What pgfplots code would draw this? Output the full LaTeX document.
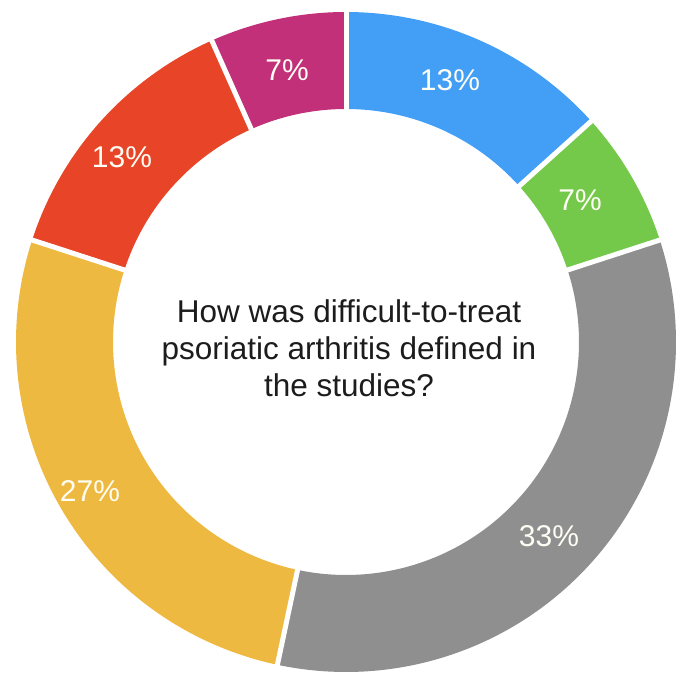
\documentclass[border=0pt]{standalone}
\usepackage{pgfplots}
\usepackage{pgfplotstable}
\pgfplotsset{compat=1.18}
\usepackage{fontspec}
\setmainfont{Liberation Sans}

\definecolor{cBlue}{HTML}{439FF6}
\definecolor{cGreen}{HTML}{74C94A}
\definecolor{cGray}{HTML}{8F8F8F}
\definecolor{cYellow}{HTML}{EEB940}
\definecolor{cRed}{HTML}{E84428}
\definecolor{cMagenta}{HTML}{C2307A}
\definecolor{cText}{HTML}{1C1C1C}

% share of studies (percent), clockwise from 12 o'clock
\pgfplotstableread{
name pct
Blue 13.333
Green 6.667
Gray 33.333
Yellow 26.667
Red 13.333
Magenta 6.667
}\datatable

\newcommand\getpct[2]{\pgfplotstablegetelem{#1}{pct}\of\datatable\pgfmathsetmacro#2{\pgfplotsretval}}
\getpct{0}{\pA}\getpct{1}{\pB}\getpct{2}{\pC}\getpct{3}{\pD}\getpct{4}{\pE}\getpct{5}{\pF}
\pgfmathsetmacro\aA{90}
\pgfmathsetmacro\aB{\aA-3.6*\pA}
\pgfmathsetmacro\aC{\aB-3.6*\pB}
\pgfmathsetmacro\aD{\aC-3.6*\pC}
\pgfmathsetmacro\aE{\aD-3.6*\pD}
\pgfmathsetmacro\aF{\aE-3.6*\pE}
\pgfmathsetmacro\aG{\aF-3.6*\pF}

\pgfplotstableread{
x y label
104 262 13\%
234 142 7\%
203 -194 33\%
-256 -149 27\%
-224 185 13\%
-59 272 7\%
}\labeltable

\begin{document}
\begin{tikzpicture}
\begin{axis}[
  scale only axis, width=677pt, height=677pt,
  xmin=-346, xmax=331, ymin=-335, ymax=342,
  hide axis, clip=false,
]
\def\rmid{281.5}
\def\ring{97pt}
\addplot[draw=cBlue, line width=\ring, domain=\aB:\aA, samples=80, data cs=polar] ({x},{\rmid});
\addplot[draw=cGreen, line width=\ring, domain=\aC:\aB, samples=60, data cs=polar] ({x},{\rmid});
\addplot[draw=cGray, line width=\ring, domain=\aD:\aC, samples=150, data cs=polar] ({x},{\rmid});
\addplot[draw=cYellow, line width=\ring, domain=\aE:\aD, samples=120, data cs=polar] ({x},{\rmid});
\addplot[draw=cRed, line width=\ring, domain=\aF:\aE, samples=80, data cs=polar] ({x},{\rmid});
\addplot[draw=cMagenta, line width=\ring, domain=\aG:\aF, samples=60, data cs=polar] ({x},{\rmid});
% separators
\foreach \a in {\aA,\aB,\aC,\aD,\aE,\aF}{
  \edef\tmp{\noexpand\addplot[draw=white, line width=5pt, data cs=polar] coordinates {(\a,220) (\a,345)};}
  \tmp
}
\addplot[draw=none, mark=none, nodes near coords, point meta=explicit symbolic,
  nodes near coords style={anchor=center, text=white!96!yellow, font=\fontsize{30}{34}\selectfont}]
  table[x=x, y=y, meta=label] {\labeltable};
\node[align=center, text=cText, font=\fontsize{31.5}{37}\selectfont] at (axis cs:3,-6)
  {How was difficult-to-treat\\psoriatic arthritis defined in\\the studies?};
\end{axis}
\pgfresetboundingbox
\useasboundingbox (current axis.south west) rectangle (current axis.north east);
\end{tikzpicture}
\end{document}
